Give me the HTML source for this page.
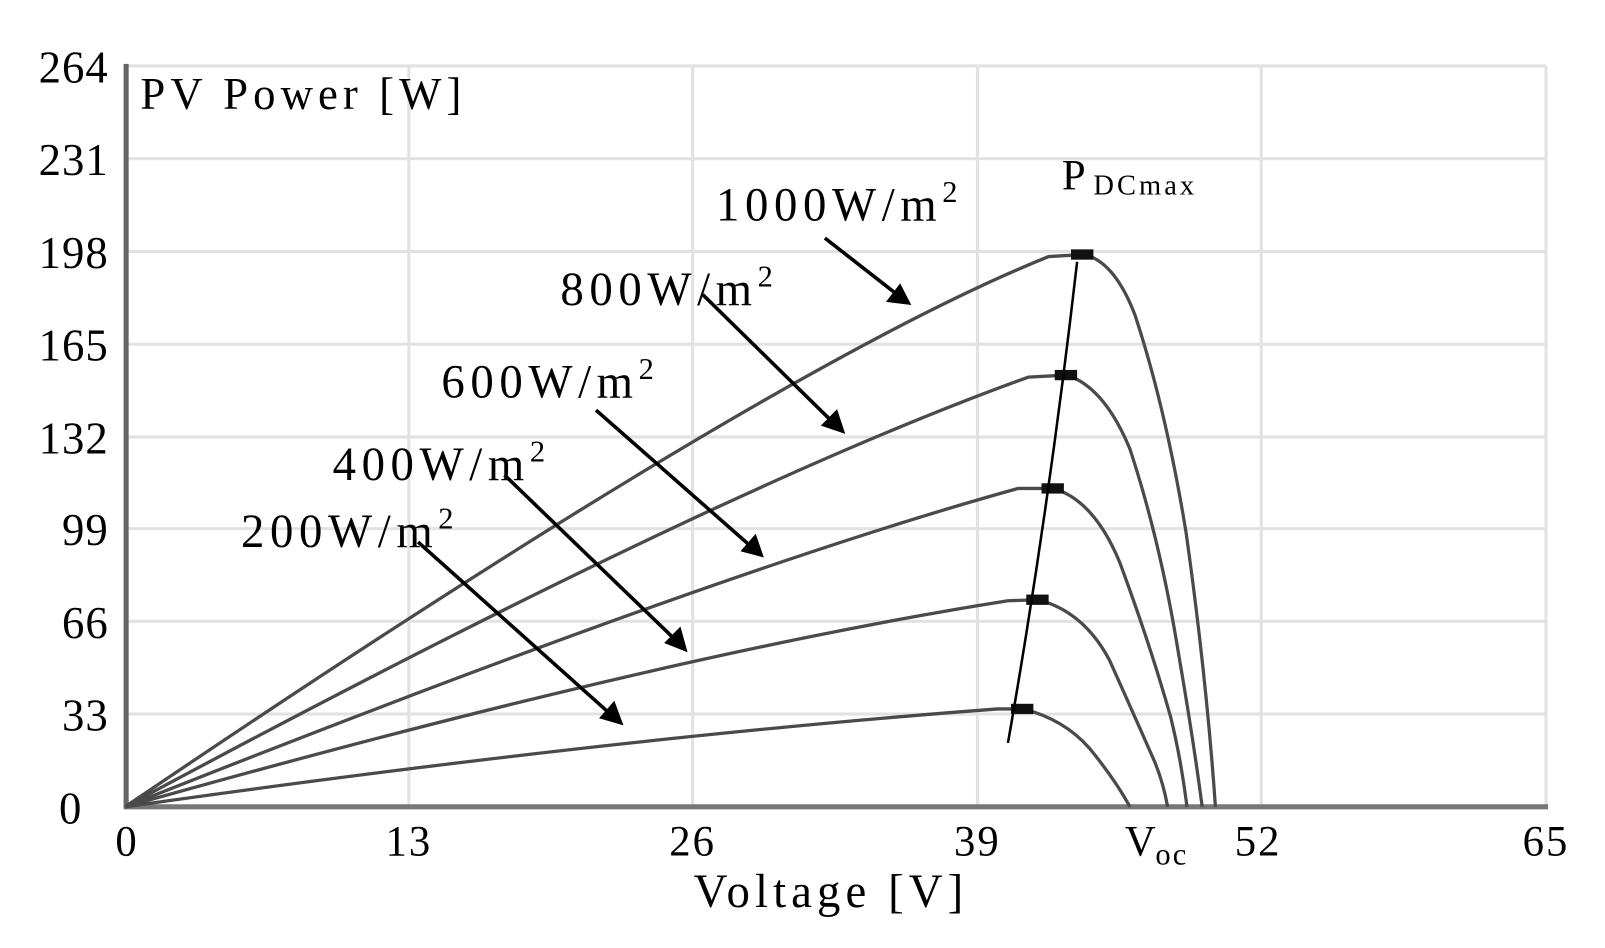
<!DOCTYPE html>
<html><head><meta charset="utf-8"><style>html,body{margin:0;padding:0;background:#fff}svg{display:block}</style></head>
<body>
<svg width="1605" height="948" viewBox="-1 4 1578 920" preserveAspectRatio="none" xmlns="http://www.w3.org/2000/svg" font-family="Liberation Serif, serif">
<rect x="-1" y="4" width="1578" height="920" fill="#fff"/>
<g stroke="#e2e2e2" stroke-width="3" fill="none">
<line x1="122" y1="68" x2="1519" y2="68"/><line x1="122" y1="158" x2="1519" y2="158"/>
<line x1="122" y1="248" x2="1519" y2="248"/><line x1="122" y1="338" x2="1519" y2="338"/>
<line x1="122" y1="428" x2="1519" y2="428"/><line x1="122" y1="517" x2="1519" y2="517"/>
<line x1="122" y1="607" x2="1519" y2="607"/><line x1="122" y1="697" x2="1519" y2="697"/>
<line x1="401" y1="68" x2="401" y2="787"/><line x1="680" y1="68" x2="680" y2="787"/>
<line x1="960" y1="68" x2="960" y2="787"/><line x1="1239" y1="68" x2="1239" y2="787"/>
<line x1="1519" y1="68" x2="1519" y2="787"/>
</g>
<line x1="123" y1="66" x2="123" y2="789" stroke="#666" stroke-width="5"/>
<line x1="121" y1="787" x2="1521" y2="787" stroke="#777" stroke-width="5"/>
<g stroke="#4a4a4a" stroke-width="3.2" fill="none" stroke-linejoin="round">
<path d="M122,787 Q760,360 1030,253 L1065,251 Q1095,258 1115,310 Q1145,400 1165,520 Q1185,660 1194,787"/>
<path d="M122,787 Q700,480 1010,370 L1048,368 Q1085,380 1110,440 Q1140,530 1158,640 Q1172,720 1181,787"/>
<path d="M122,787 Q700,560 1000,478 L1035,478 Q1075,490 1100,550 Q1130,630 1150,700 Q1160,740 1166,787"/>
<path d="M122,787 Q650,640 990,587 L1020,586 Q1065,598 1090,645 Q1115,700 1135,745 Q1143,765 1147,787"/>
<path d="M122,787 Q600,720 980,692 L1005,692 Q1045,702 1070,730 Q1095,760 1110,787"/>
</g>
<g fill="#111">
<rect x="1052" y="246" width="22" height="10"/><rect x="1036" y="363" width="22" height="10"/>
<rect x="1023" y="473" width="22" height="10"/><rect x="1008" y="581" width="22" height="10"/>
<rect x="993" y="687" width="22" height="10"/>
</g>
<path d="M990,725 Q1030,500 1058,258" stroke="#000" stroke-width="2.5" fill="none"/>
<g stroke="#000" stroke-width="3.5">
<line x1="810" y1="235" x2="880" y2="289"/><line x1="690" y1="290" x2="817" y2="413"/>
<line x1="585" y1="402" x2="737" y2="534"/><line x1="495" y1="465" x2="662" y2="624"/>
<line x1="410" y1="530" x2="598" y2="696"/>
</g>
<g fill="#000">
<polygon points="895,300 870,297 884,279"/><polygon points="830,425 806,417 822,401"/>
<polygon points="750,545 727,539 742,522"/><polygon points="675,637 652,628 668,612"/>
<polygon points="612,708 588,701 603,684"/>
</g>
<g font-size="44" text-anchor="end" fill="#000" letter-spacing="1">
<text x="106" y="84">264</text><text x="106" y="174">231</text><text x="106" y="264">198</text>
<text x="106" y="354">165</text><text x="106" y="444">132</text><text x="106" y="533">99</text>
<text x="106" y="623">66</text><text x="106" y="713">33</text><text x="80" y="803">0</text>
</g>
<g font-size="42" text-anchor="middle" fill="#000" letter-spacing="2">
<text x="124" y="834">0</text><text x="401" y="834">13</text><text x="680" y="834">26</text>
<text x="960" y="834">39</text><text x="1236" y="834">52</text><text x="1519" y="834">65</text>
</g>
<text x="1105" y="834" font-size="42">V</text><text x="1135" y="843" font-size="30" letter-spacing="2">oc</text>
<text x="816" y="884" font-size="46" text-anchor="middle" letter-spacing="5">Voltage [V]</text>
<text x="137" y="110" font-size="44" letter-spacing="5">PV Power [W]</text>
<text x="1043" y="188" font-size="42">P</text><text x="1074" y="193" font-size="28" letter-spacing="3">DCmax</text>
<g font-size="46" letter-spacing="5.5">
<text x="703" y="218">1000W/m<tspan font-size="30" dy="-18" letter-spacing="0">2</tspan></text>
<text x="550" y="300">800W/m<tspan font-size="30" dy="-18" letter-spacing="0">2</tspan></text>
<text x="433" y="390">600W/m<tspan font-size="30" dy="-18" letter-spacing="0">2</tspan></text>
<text x="326" y="470">400W/m<tspan font-size="30" dy="-18" letter-spacing="0">2</tspan></text>
<text x="236" y="535">200W/m<tspan font-size="30" dy="-18" letter-spacing="0">2</tspan></text>
</g>
</svg>
</body></html>
